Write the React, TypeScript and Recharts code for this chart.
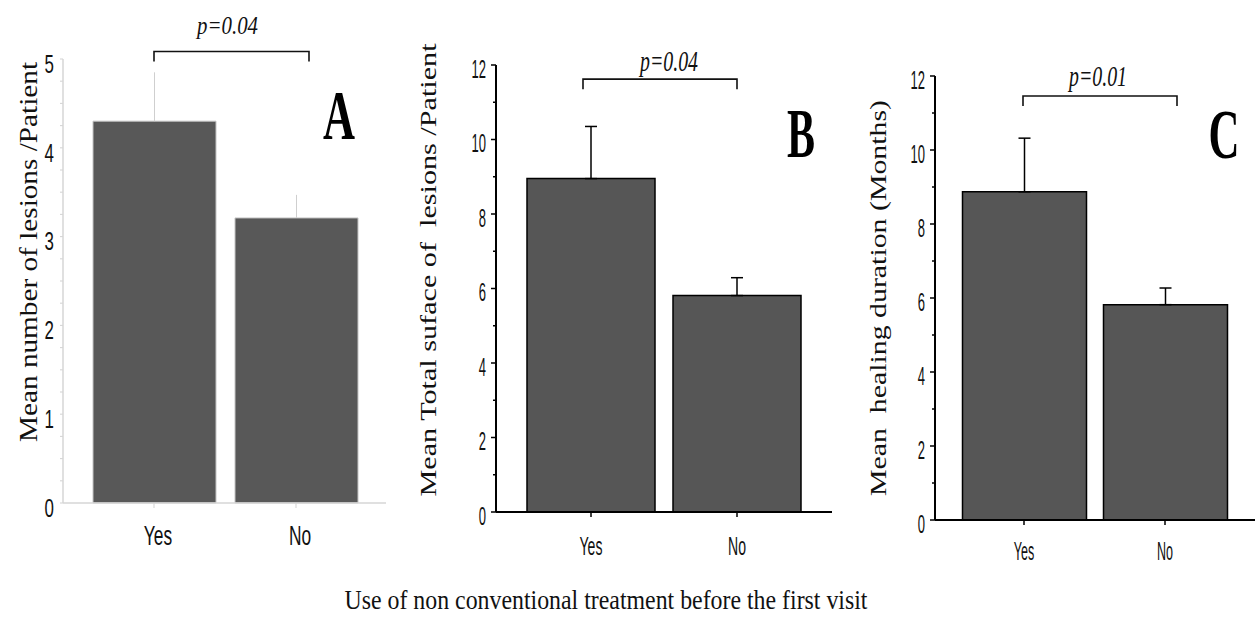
import React from "react";
import { BarChart, Bar, XAxis, YAxis, ErrorBar, ReferenceLine } from "recharts";

const SERIF = '"Liberation Serif", "Times New Roman", serif';
const SANS = '"Liberation Sans", Arial, sans-serif';

// groups on the x axis
const categories = ["Yes", "No"];

// A: mean number of lesions / patient
const lesionMeans = [4.3, 3.21];
const lesionErrors = [0.55, 0.26];
const lesionTicks = [0, 0.25, 0.5, 0.75, 1, 1.25, 1.5, 1.75, 2, 2.25, 2.5, 2.75, 3, 3.25, 3.5, 3.75, 4, 4.25, 4.5, 4.75, 5];

// B: mean total surface of lesions / patient
const surfaceMeans = [8.95, 5.81];
const surfaceErrors = [1.4, 0.48];

// C: mean healing duration (months)
const healingMeans = [8.87, 5.82];
const healingErrors = [1.45, 0.45];

const twelveTicks = [0, 1, 2, 3, 4, 5, 6, 7, 8, 9, 10, 11, 12];

const buildRows = (means: number[], errors: number[]) =>
  categories.map((name, i) => ({ name, mean: means[i], err: [0, errors[i]] }));

const panels = [
  {
    key: "A",
    rows: buildRows(lesionMeans, lesionErrors),
    ticks: lesionTicks, domain: [0, 5], labelEvery: 1,
    left: 0, width: 420, height: 560,
    margin: { top: 59, right: 34, bottom: 0, left: 0 },
    yWidth: 63, xHeight: 57, xPad: { left: 20, right: 19 }, barSize: 123,
    axisColor: "#d6d6d6", axisWidth: 1.5,
    barFill: "#585858", barStroke: "#c4c4c4", barStrokeWidth: 1,
    errColor: "#cfcfcf", errWidth: 1, capWidth: 0,
    minorLen: 3, majorLen: 3,
    yTickFs: 26, yTickSx: 0.65, yTickGap: 9, yTickDy: 5,
    xTickFs: 28, xTickSx: 0.62, xTickDx: 4, xTickBase: 42, xTickLen: 5,
    yLabel: { text: "Mean number of lesions /Patient", cx: 28, cy: 252, len: 380, fs: 26, sx: 1 },
    letter: { x: 339, y: 139, fs: 70, len: 32 },
    bracket: { y: 5.085, p: "p=0.04", drop: 10, dxLeft: 0, dxRight: 13, textDx: -4, textGap: 17, fs: 26, len: 61 },
  },
  {
    key: "B",
    rows: buildRows(surfaceMeans, surfaceErrors),
    ticks: twelveTicks, domain: [0, 12], labelEvery: 2,
    left: 400, width: 440, height: 580,
    margin: { top: 65, right: 8, bottom: 0, left: 0 },
    yWidth: 96, xHeight: 68, xPad: { left: 22, right: 22 }, barSize: 128,
    axisColor: "#000", axisWidth: 2,
    barFill: "#565656", barStroke: "#000", barStrokeWidth: 1.5,
    errColor: "#000", errWidth: 1.5, capWidth: 6,
    minorLen: 3, majorLen: 5,
    yTickFs: 26, yTickSx: 0.5, yTickGap: 10, yTickDy: 3.5,
    xTickFs: 26, xTickSx: 0.54, xTickDx: 0, xTickBase: 43, xTickLen: 5,
    yLabel: { text: "Mean Total suface of  lesions /Patient", cx: 28, cy: 270, len: 453, fs: 27, sx: 0.85 },
    letter: { x: 401, y: 157, fs: 70, len: 28 },
    bracket: { y: 11.62, p: "p=0.04", drop: 10, dxLeft: -8, dxRight: 0, textDx: 9, textGap: 8, fs: 30, len: 58 },
  },
  {
    key: "C",
    rows: buildRows(healingMeans, healingErrors),
    ticks: twelveTicks, domain: [0, 12], labelEvery: 2,
    left: 840, width: 420, height: 580,
    margin: { top: 76, right: 5, bottom: 0, left: 0 },
    yWidth: 95, xHeight: 60, xPad: { left: 18.5, right: 19.5 }, barSize: 124,
    axisColor: "#000", axisWidth: 2,
    barFill: "#565656", barStroke: "#000", barStrokeWidth: 1.5,
    errColor: "#000", errWidth: 1.5, capWidth: 6,
    minorLen: 3, majorLen: 5,
    yTickFs: 26, yTickSx: 0.5, yTickGap: 10, yTickDy: 3.5,
    xTickFs: 25, xTickSx: 0.5, xTickDx: 0, xTickBase: 40, xTickLen: 5,
    yLabel: { text: "Mean  healing duration (Months)", cx: 38, cy: 298, len: 396, fs: 27, sx: 0.85 },
    letter: { x: 384, y: 158, fs: 70, len: 31 },
    bracket: { y: 11.46, p: "p=0.01", drop: 10, dxLeft: -1, dxRight: 12, textDx: -2, textGap: 10, fs: 30, len: 58 },
  },
];

type Panel = (typeof panels)[number];

function Panel({ cfg }: { cfg: Panel }) {
  const yTick = (props: any) => {
    const { x, y, payload } = props;
    const v = payload.value as number;
    const major = Math.abs(v / cfg.labelEvery - Math.round(v / cfg.labelEvery)) < 1e-6;
    const len = major ? cfg.majorLen : cfg.minorLen;
    return (
      <g>
        <line x1={x - len} x2={x} y1={y} y2={y} stroke={cfg.axisColor} strokeWidth={cfg.axisWidth * 0.75} />
        {major && (
          <text
            transform={`translate(${x - cfg.yTickGap} ${y + cfg.yTickDy}) scale(${cfg.yTickSx} 1)`}
            textAnchor="end"
            dominantBaseline="central"
            fontFamily={SANS}
            fontSize={cfg.yTickFs}
            fill="#111"
          >
            {v}
          </text>
        )}
      </g>
    );
  };

  const xTick = (props: any) => {
    const { x, y, payload } = props;
    return (
      <g>
        <line x1={x} x2={x} y1={y} y2={y + cfg.xTickLen} stroke={cfg.axisColor} strokeWidth={cfg.axisWidth * 0.75} />
        <text
          transform={`translate(${x + cfg.xTickDx} ${y + cfg.xTickBase}) scale(${cfg.xTickSx} 1)`}
          textAnchor="middle"
          fontFamily={SANS}
          fontSize={cfg.xTickFs}
          fill="#111"
        >
          {payload.value}
        </text>
      </g>
    );
  };

  const yLabel = () => {
    const l = cfg.yLabel;
    const t = cfg.letter;
    return (
      <g>
        <text
          transform={`translate(${l.cx} ${l.cy}) scale(${l.sx} 1) rotate(-90)`}
          textAnchor="middle"
          dominantBaseline="central"
          fontFamily={SERIF}
          fontSize={l.fs}
          textLength={l.len}
          lengthAdjust="spacingAndGlyphs"
          style={{ whiteSpace: "pre" }}
          fill="#111"
        >
          {l.text}
        </text>
        <text
          x={t.x}
          y={t.y}
          textAnchor="middle"
          fontFamily={SERIF}
          fontWeight="bold"
          fontSize={t.fs}
          textLength={t.len}
          lengthAdjust="spacingAndGlyphs"
          fill="#000"
        >
          {cfg.key}
        </text>
      </g>
    );
  };

  const b = cfg.bracket;
  const bracket = (p: any) => {
    const xa = p.x1 + b.dxLeft;
    const xb = p.x2 + b.dxRight;
    const y = p.y1;
    return (
      <g>
        <path d={`M${xa},${y + b.drop}V${y}H${xb}V${y + b.drop}`} fill="none" stroke="#111" strokeWidth={1.6} />
        <text
          x={(xa + xb) / 2 + b.textDx}
          y={y - b.textGap}
          textAnchor="middle"
          fontFamily={SERIF}
          fontStyle="italic"
          fontSize={b.fs}
          textLength={b.len}
          lengthAdjust="spacingAndGlyphs"
          fill="#111"
        >
          {b.p}
        </text>
      </g>
    );
  };

  return (
    <div style={{ position: "absolute", left: cfg.left, top: 0 }}>
      <BarChart width={cfg.width} height={cfg.height} data={cfg.rows} margin={cfg.margin}>
        <XAxis
          dataKey="name"
          height={cfg.xHeight}
          padding={cfg.xPad}
          interval={0}
          tickSize={0}
          tickMargin={0}
          tick={xTick}
          axisLine={{ stroke: cfg.axisColor, strokeWidth: cfg.axisWidth }}
        />
        <YAxis
          type="number"
          width={cfg.yWidth}
          domain={cfg.domain}
          ticks={cfg.ticks}
          interval={0}
          tickSize={0}
          tickMargin={0}
          tick={yTick}
          axisLine={{ stroke: cfg.axisColor, strokeWidth: cfg.axisWidth }}
          label={yLabel}
        />
        <Bar
          dataKey="mean"
          fill={cfg.barFill}
          stroke={cfg.barStroke}
          strokeWidth={cfg.barStrokeWidth}
          barSize={cfg.barSize}
          isAnimationActive={false}
        >
          <ErrorBar
            dataKey="err"
            direction="y"
            width={cfg.capWidth}
            stroke={cfg.errColor}
            strokeWidth={cfg.errWidth}
            isAnimationActive={false}
          />
        </Bar>
        <ReferenceLine
          segment={[{ x: "Yes", y: b.y }, { x: "No", y: b.y }]}
          ifOverflow="visible"
          shape={bracket}
        />
      </BarChart>
    </div>
  );
}

export default function App() {
  return (
    <div style={{ position: "absolute", left: 0, top: 0, width: 1260, height: 618, background: "#fff", overflow: "hidden" }}>
      {panels.map((p) => (
        <Panel key={p.key} cfg={p} />
      ))}
      <svg width={1260} height={618} style={{ position: "absolute", left: 0, top: 0, pointerEvents: "none" }}>
        <text
          x={606}
          y={609}
          textAnchor="middle"
          fontFamily={SERIF}
          fontSize={28}
          textLength={523}
          lengthAdjust="spacingAndGlyphs"
          fill="#111"
        >
          Use of non conventional treatment before the first visit
        </text>
      </svg>
    </div>
  );
}
